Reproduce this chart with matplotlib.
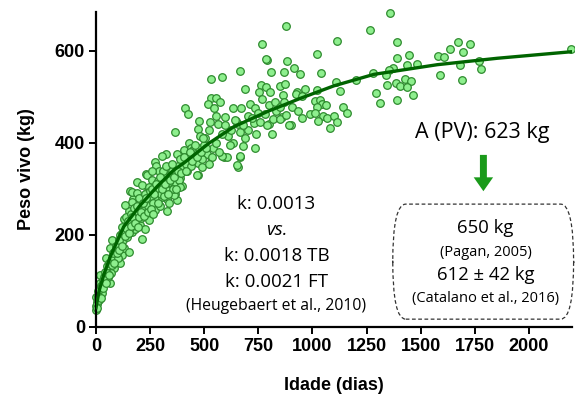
import matplotlib
matplotlib.use('Agg')
import matplotlib.pyplot as plt
from matplotlib.patches import FancyBboxPatch

# idade (dias) e peso vivo (kg)
idade = [1580, 1608, 1636, 1674, 1727, 1697, 1682, 1768, 1779, 1589, 1691, 2197,
         1357, 1264, 1113, 1392, 1019, 1389, 1446, 1438, 1481, 1372, 1353, 917, 943,
         1039, 1280, 1338, 1202, 1111, 1429, 1454, 1387, 1405, 1435, 1344, 1127, 1294,
         1464, 1392, 1312, 1022, 965, 930, 925, 950, 1014, 1036, 1045, 1064, 1019, 905,
         932, 988, 1013, 1142, 1161, 954, 1050, 1068, 1099, 1025, 1113, 1079, 899,
         876, 883, 868, 891, 858,
         529, 583, 667, 789, 809, 687, 763, 784, 852, 872, 754, 806, 865, 532, 555, 518,
         575, 544, 632, 669, 710, 735, 769, 798, 829, 412, 427, 478, 525, 562, 595, 648,
         700, 729, 747, 780, 798, 819, 849, 880, 814, 367, 470, 482, 521, 609, 626, 664,
         704, 634, 678, 734, 530, 590, 606, 664, 657, 430, 405, 439, 374, 451, 473, 491,
         273, 322, 342, 410, 473, 390, 313, 348, 399, 266, 282, 328, 374, 366,
         766, 786, 556, 598, 655, 307, 276, 231, 190, 155, 170, 513, 536, 583, 652, 667,
         1, 1, 5, 0, 12, 28, 20, 17, 35, 20, 43, 66, 58, 48, 66, 81, 89, 81, 112, 66, 94,
         120, 128, 151, 97, 120, 74, 136, 143, 166, 182, 213, 120, 159, 190, 205, 228, 243,
         182, 151, 205, 166, 220, 251, 274, 297, 328, 336, 274, 166, 190, 236, 213, 236,
         259, 297, 320, 359, 359, 382, 421, 351, 290, 305, 282, 328, 390, 467, 136, 213,
         8, 10, 25, 30, 40, 50, 55, 70, 75, 85, 100, 105, 110, 115, 125, 130, 140, 145,
         155, 160, 170, 175, 185, 195, 200, 210, 220, 225, 240, 245, 255, 260, 265, 285,
         300, 310, 315, 335, 345, 355, 370, 380, 395, 400, 415, 425, 440, 450, 460, 475,
         490, 500, 505, 540, 555, 570, 580, 620, 640, 680, 690, 720, 740, 760, 790, 830,
         850, 870,
         3, 6, 9, 14, 22, 26, 32, 38, 45, 52, 60, 62, 72, 78, 85, 92, 98, 104, 108, 118,
         122, 133, 138, 148, 153, 162, 168, 178, 188, 192, 198, 208, 215, 223, 232, 238,
         248, 252, 258, 262,
         270, 278, 288, 295, 303, 318, 325, 332, 340, 350, 362, 368, 378, 386, 392, 408,
         418, 432, 445, 458, 468, 485, 495, 510, 520]
peso = [589, 587, 604, 620, 616, 597, 569, 577, 560, 547, 537, 604,
        683, 646, 622, 620, 594, 584, 590, 570, 572, 562, 559, 563, 549,
        552, 551, 547, 536, 533, 539, 535, 530, 524, 521, 525, 512, 509,
        504, 494, 487, 515, 517, 511, 506, 501, 492, 493, 484, 483, 478, 478,
        470, 463, 465, 478, 464, 454, 459, 454, 459, 448, 446, 432, 438,
        653, 578, 554, 438, 457,
        538, 543, 556, 580, 554, 517, 525, 522, 523, 528, 511, 511, 505, 498, 498, 485,
        488, 475, 475, 475, 485, 475, 495, 483, 488, 475, 462, 448, 446, 441, 440, 448,
        459, 443, 465, 462, 441, 451, 452, 460, 420, 423, 431, 414, 428, 414, 427, 423,
        427, 399, 393, 388, 370, 370, 370, 370, 348, 399, 385, 388, 376, 367, 357, 348,
        359, 376, 341, 348, 331, 324, 323, 305, 307, 301, 283, 278, 276, 288,
        615, 583, 459, 456, 441, 372, 350, 333, 316, 296, 278, 376, 370, 372, 352, 372,
        37, 46, 55, 66, 70, 73, 84, 95, 99, 113, 111, 95, 124, 149, 138, 128, 146, 157, 138,
        171, 167, 157, 171, 164, 185, 193, 189, 204, 222, 207, 214, 191, 218, 233, 233,
        222, 214, 233, 251, 251, 262, 272, 276, 269, 254, 262, 251, 269, 280, 294, 291,
        294, 309, 330, 320, 305, 327, 312, 287, 320, 338, 338, 338, 283, 298, 298, 305,
        330, 265, 243,
        60, 78, 88, 102, 120, 132, 108, 118, 150, 162, 150, 175, 200, 180, 190, 235, 240,
        196, 215, 245, 228, 258, 240, 250, 280, 236, 255, 290, 262, 305, 285, 340, 270,
        318, 290, 340, 285, 315, 330, 300, 335, 350, 345, 360, 355, 370, 350, 385, 375,
        390, 365, 395, 410, 390, 400, 380, 420, 395, 450, 440, 410, 455, 420, 445, 440,
        470, 478, 490,
        50, 42, 68, 58, 64, 92, 85, 108, 95, 118, 140, 112, 135, 160, 140, 175, 160, 190,
        168, 205,
        176, 198, 215, 230, 205, 220, 240, 225, 262, 218, 240, 250, 270, 242, 280, 250,
        295, 256, 300, 245,
        290, 310, 270, 325, 300, 310, 350, 290, 320, 355, 325, 300, 340, 365, 335, 370,
        340, 380, 360, 395, 370, 380, 410, 390, 355]

# curva ajustada
curva_idade = [0, 5, 15, 35, 66, 128, 205, 282, 359, 405, 521, 636, 791, 945, 1099,
               1284, 1577, 1855, 2193]
curva_peso = [42, 55, 80, 112, 153, 218, 265, 305, 341, 356, 399, 435, 468, 497, 524,
              549, 570, 584, 598]

xticks = [0, 250, 500, 750, 1000, 1250, 1500, 1750, 2000]
yticks = [0, 200, 400, 600]

plt.rcParams['font.family'] = ['Liberation Sans', 'DejaVu Sans']
fig = plt.figure(figsize=(5.75, 3.99), dpi=100)
ax = fig.add_axes([0.167, 0.1805, 0.828, 0.79])

ax.scatter(idade, peso, s=30, facecolor='#8eef8e', edgecolor='#2e8b2e',
           linewidth=0.9, zorder=2, clip_on=False)
ax.plot(curva_idade, curva_peso, color='#006400', lw=2.4, zorder=3)

ax.set_xlim(0, 2200)
ax.set_ylim(0, 685)
ax.set_xticks(xticks)
ax.set_yticks(yticks)
for s in ['top', 'right']:
    ax.spines[s].set_visible(False)
for s in ['left', 'bottom']:
    ax.spines[s].set_linewidth(1.6)
ax.tick_params(width=1.4, length=5, labelsize=13, pad=3)
for lab in ax.get_xticklabels() + ax.get_yticklabels():
    lab.set_fontweight('bold')
ax.set_xlabel('Idade (dias)', fontsize=13, fontweight='bold', labelpad=16)
ax.set_ylabel('Peso vivo (kg)', fontsize=13, fontweight='bold', labelpad=14)

tf = ['Open Sans', 'DejaVu Sans']
ax.text(834, 267, 'k: 0.0013', ha='center', va='center', fontsize=13.5, family=tf)
ax.text(834, 211, 'vs.', ha='center', va='center', fontsize=13.5, style='italic', family=tf)
ax.text(834, 154, 'k: 0.0018 TB', ha='center', va='center', fontsize=13.5, family=tf)
ax.text(834, 98, 'k: 0.0021 FT', ha='center', va='center', fontsize=13.5, family=tf)
ax.text(834, 46, '(Heugebaert et al., 2010)', ha='center', va='center', fontsize=11.3, family=tf)

ax.text(1787, 422, 'A (PV): 623 kg', ha='center', va='center', fontsize=15.5, family=tf)
ax.annotate('', xy=(1790, 289), xytext=(1790, 380),
            arrowprops=dict(arrowstyle='simple,head_width=1.4,head_length=1.0,tail_width=0.5',
                            color='#1a9a1a', lw=0))

box = FancyBboxPatch((1371, 17), 836, 250, boxstyle='round,pad=0,rounding_size=60',
                     mutation_aspect=0.46 / 0.2162, fill=False, ls=(0, (3, 2)),
                     lw=0.9, ec='#333333', clip_on=False)
ax.add_patch(box)
ax.text(1800, 215, '650 kg', ha='center', va='center', fontsize=13.3, family=tf)
ax.text(1800, 161, '(Pagan, 2005)', ha='center', va='center', fontsize=10.5, family=tf)
ax.text(1800, 113, '612 ± 42 kg', ha='center', va='center', fontsize=13.3, family=tf)
ax.text(1800, 61, '(Catalano et al., 2016)', ha='center', va='center', fontsize=10.5, family=tf)

fig.savefig('out.png', dpi=100)
